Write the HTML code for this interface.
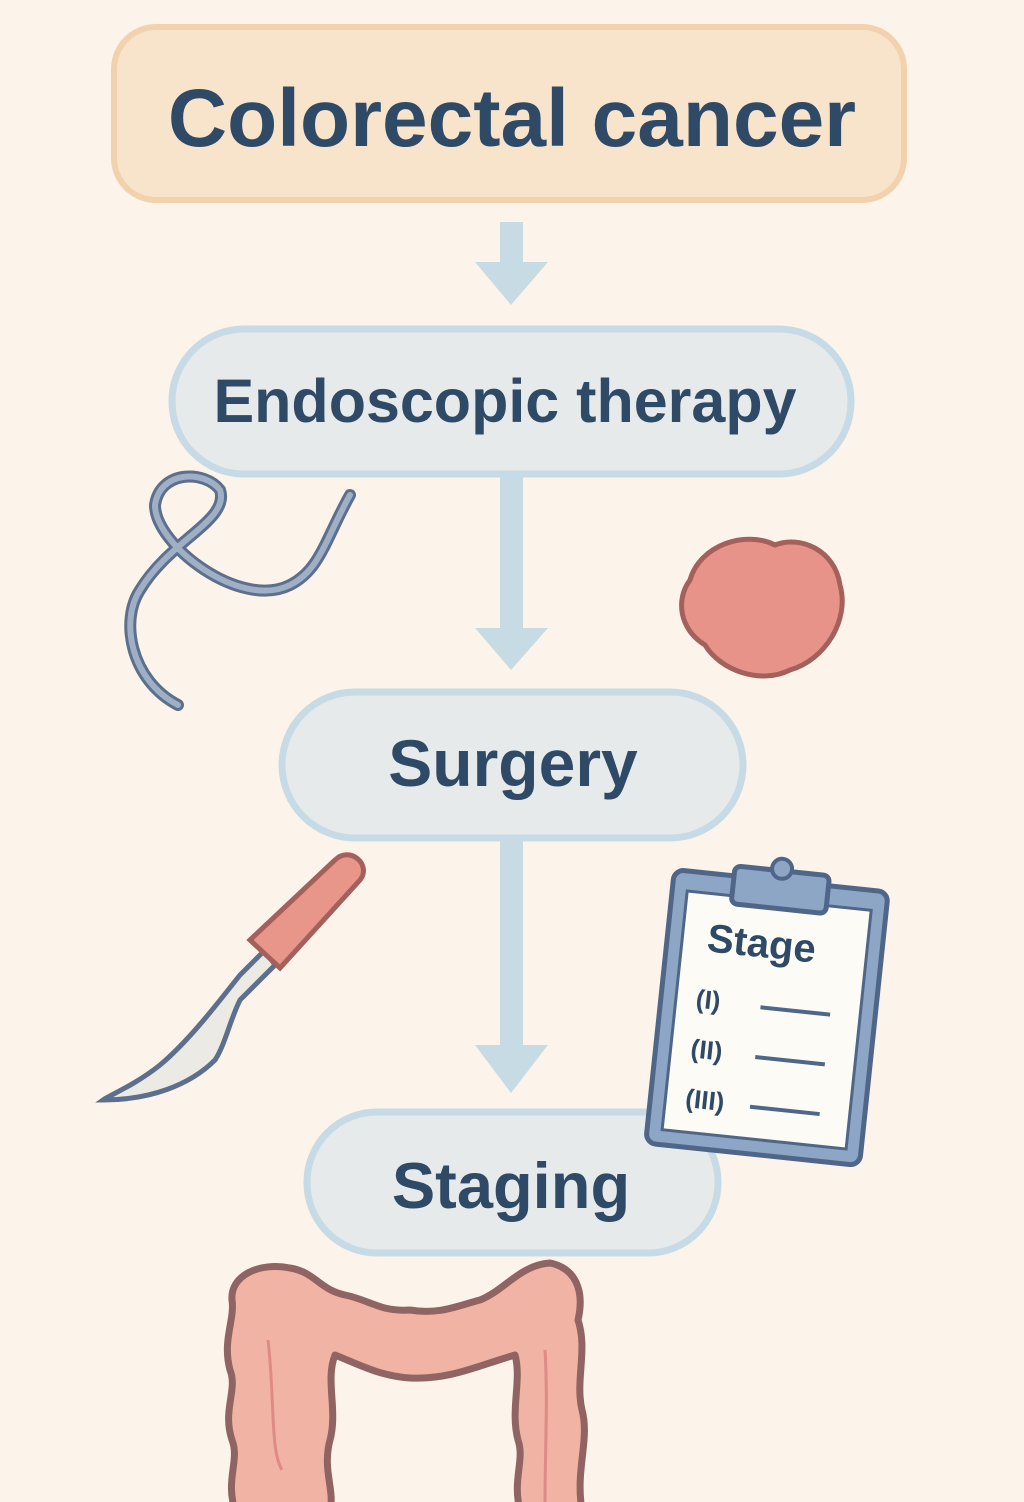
<!DOCTYPE html>
<html><head><style>
html,body{margin:0;padding:0;background:#fcf4ea;}
svg{display:block}
text{font-family:"Liberation Sans",sans-serif;font-weight:bold;fill:#2f4a66}
</style></head><body>
<svg width="1024" height="1502" viewBox="0 0 1024 1502" xmlns="http://www.w3.org/2000/svg">
<rect width="1024" height="1502" fill="#fcf4ea"/>
<!-- title -->
<rect x="114" y="27" width="790" height="173" rx="42" fill="#f8e3cb" stroke="#f2d2ad" stroke-width="6"/>
<text x="512" y="146" font-size="82" text-anchor="middle">Colorectal cancer</text>
<!-- arrow1 -->
<rect x="500" y="222" width="23" height="44" fill="#c6dbe3"/>
<polygon points="475,262 548,262 511,305" fill="#c6dbe3"/>
<!-- endoscopic -->
<rect x="172" y="329" width="679" height="145" rx="72" fill="#e6eaea" stroke="#c6dbe5" stroke-width="7"/>
<text x="505" y="422" font-size="61" text-anchor="middle">Endoscopic therapy</text>
<!-- arrow2 -->
<rect x="500" y="476" width="23" height="155" fill="#c6dbe3"/>
<polygon points="475,628 548,628 511,670" fill="#c6dbe3"/>
<!-- surgery -->
<rect x="282" y="692" width="461" height="146" rx="73" fill="#e6eaea" stroke="#c6dbe5" stroke-width="7"/>
<text x="513" y="786" font-size="66" text-anchor="middle">Surgery</text>
<!-- arrow3 -->
<rect x="500" y="840" width="23" height="208" fill="#c6dbe3"/>
<polygon points="475,1045 548,1045 511,1093" fill="#c6dbe3"/>
<!-- staging -->
<rect x="307" y="1112" width="411" height="141" rx="70" fill="#e6eaea" stroke="#c6dbe5" stroke-width="7"/>
<text x="511" y="1208" font-size="65" text-anchor="middle">Staging</text>
<!-- loop wire -->
<g fill="none" stroke-linecap="round">
<path d="M178,705 C130,680 120,620 140,590 C170,540 230,520 220,490 C205,470 160,470 155,505 C155,545 240,610 290,585 C320,570 325,540 350,495" stroke="#5c6f8c" stroke-width="12"/>
<path d="M178,705 C130,680 120,620 140,590 C170,540 230,520 220,490 C205,470 160,470 155,505 C155,545 240,610 290,585 C320,570 325,540 350,495" stroke="#9fb0c6" stroke-width="6"/>
</g>
<!-- tumor -->
<path d="M690,580 C700,545 745,530 775,545 C800,535 835,550 840,585 C850,620 825,660 790,670 C760,685 720,670 705,645 C680,630 675,600 690,580Z" fill="#e8938a" stroke="#a4605a" stroke-width="5"/>
<!-- scalpel -->
<path d="M265,950 L240,975 C220,1000 190,1040 160,1065 C135,1085 110,1095 103,1100 C150,1100 190,1085 215,1060 C225,1045 230,1020 240,1000 L275,965Z" fill="#eceae4" stroke="#5c6f8c" stroke-width="5"/>
<path d="M250,940 L335,860 C350,845 372,865 360,880 L280,968Z" fill="#e8958a" stroke="#a4605a" stroke-width="5"/>
<!-- clipboard -->
<g transform="rotate(6 767 1012)">
<rect x="660" y="880" width="215" height="275" rx="10" fill="#8ea6c6" stroke="#4f6688" stroke-width="5"/>
<rect x="675" y="900" width="185" height="240" fill="#fdfbf6" stroke="#4f6688" stroke-width="3"/>
<rect x="720" y="870" width="95" height="38" rx="6" fill="#8ea6c6" stroke="#4f6688" stroke-width="5"/>
<circle cx="767" cy="868" r="10" fill="#8ea6c6" stroke="#4f6688" stroke-width="4"/>
<text x="700" y="958" font-size="40">Stage</text>
<text x="695" y="1015" font-size="26">(I)</text>
<text x="695" y="1065" font-size="26">(II)</text>
<text x="695" y="1115" font-size="26">(III)</text>
<g stroke="#4f6688" stroke-width="4"><line x1="760" y1="1008" x2="830" y2="1008"/><line x1="760" y1="1058" x2="830" y2="1058"/><line x1="760" y1="1108" x2="830" y2="1108"/></g>
</g>
<!-- colon -->
<path d="M235,1510 C225,1480 240,1460 232,1440 C222,1410 238,1390 230,1370 C222,1340 235,1320 232,1300 C230,1275 260,1262 290,1268 C315,1272 320,1290 345,1295 C370,1300 380,1312 410,1310 C440,1315 460,1305 480,1300 C505,1290 520,1265 550,1263 C575,1268 585,1290 578,1320 C588,1350 575,1380 582,1410 C590,1440 575,1470 582,1510 L520,1510 C512,1480 525,1460 518,1440 C510,1410 522,1380 515,1355 C480,1365 450,1380 410,1378 C380,1376 360,1365 335,1355 C325,1380 338,1410 330,1440 C322,1470 335,1490 330,1510Z" fill="#f1b3a4" stroke="#8f6462" stroke-width="7" stroke-linejoin="round"/>
<path d="M268,1340 C275,1400 270,1450 282,1470 M545,1350 C548,1400 545,1450 545,1502" stroke="#e08a86" stroke-width="3" fill="none"/>
</svg>
</body></html>
